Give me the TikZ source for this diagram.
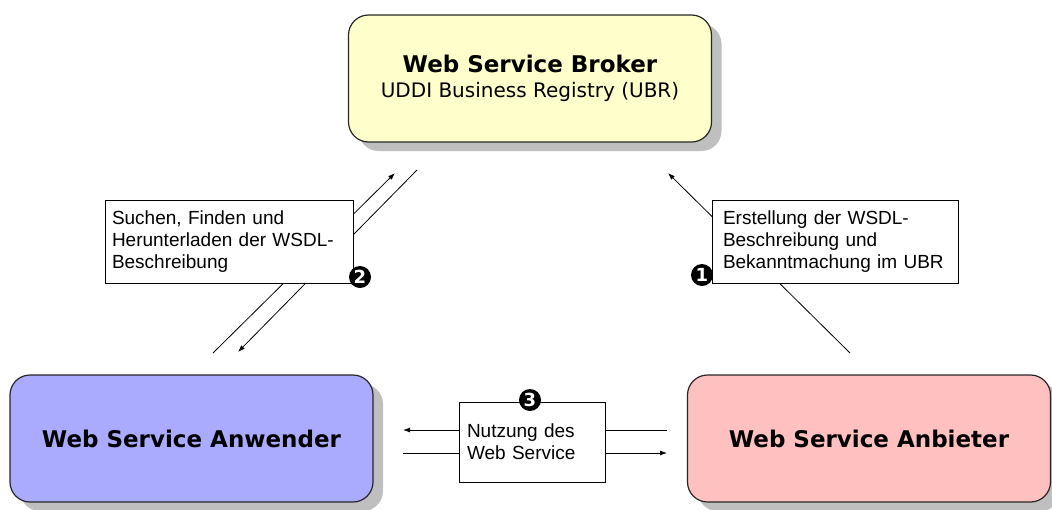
\documentclass[tikz,border=0pt]{standalone}
\usepackage{fontspec}
\setmainfont{Liberation Sans}
\newfontfamily\verdana{DejaVu Sans}
\usetikzlibrary{arrows.meta,shadows}
\definecolor{brokerfill}{HTML}{FFFFCC}
\definecolor{userfill}{HTML}{AAAAFF}
\definecolor{provfill}{HTML}{FFC0C0}

\begin{document}
\begin{tikzpicture}[x=1pt,y=-1pt,>={Latex[length=7pt,width=5pt]},line width=0.8pt,
  role/.style={draw=black!85,line width=1.2pt,rounded corners=20pt,minimum width=363pt,minimum height=127pt,
    font=\verdana\fontsize{23}{27}\selectfont\bfseries,
    drop shadow={shadow xshift=10pt,shadow yshift=-9pt,fill=black!25,opacity=1}},
  note/.style={draw,fill=white,line width=0.9pt,align=left,inner sep=0pt,font=\fontsize{19}{22}\selectfont},
  num/.style={circle,fill=black,text=white,inner sep=0pt,minimum size=22pt,font=\verdana\fontsize{18}{18}\selectfont\bfseries}]
\useasboundingbox (0,0) rectangle (1052,509);
\node[role,fill=brokerfill,align=center] (broker) at (530,78.5)
 {Web Service Broker\\[-2pt]{\fontsize{20}{24}\selectfont\mdseries UDDI Business Registry (UBR)}};
\node[role,fill=userfill] (user) at (191.5,438.5) {Web Service Anwender};
\node[role,fill=provfill] (prov) at (869,438.5) {Web Service Anbieter};
% free ends of the connectors
\coordinate (up2a) at (213,353);
\coordinate (up2b) at (395,173);
\coordinate (dn2a) at (417,170);
\coordinate (dn2b) at (238,352);
\coordinate (pub1a) at (850,353);
\coordinate (pub1b) at (668,173);
\coordinate (usehi) at (403,430);
\coordinate (uselo) at (403,453);
\coordinate (provhi) at (667,430);
\coordinate (provlo) at (667,453);
\draw[->] (up2a) -- (up2b);
\draw[->] (dn2a) -- (dn2b);
\draw[->] (pub1a) -- (pub1b);
\node[note,minimum width=248pt,minimum height=83pt,text width=234pt] (find) at (229,241.5)
 {Suchen, Finden und\\Herunterladen der WSDL-\\Beschreibung};
\node[note,minimum width=246pt,minimum height=83pt,text width=224pt] (publish) at (835,241.5)
 {Erstellung der WSDL-\\Beschreibung und\\Bekanntmachung im UBR};
\node[note,minimum width=146pt,minimum height=80pt,text width=130pt] (nutz) at (532,442)
 {Nutzung des\\Web Service};
\draw[->] (nutz.west |- usehi) -- (usehi);
\draw (uselo) -- (nutz.west |- uselo);
\draw (nutz.east |- provhi) -- (provhi);
\draw[->] (nutz.east |- provlo) -- (provlo);
\node[num] (n1) at (702,275) {1};
\node[num] (n2) at (360,277) {2};
\node[num] (n3) at (530,400) {3};
\end{tikzpicture}
\end{document}
